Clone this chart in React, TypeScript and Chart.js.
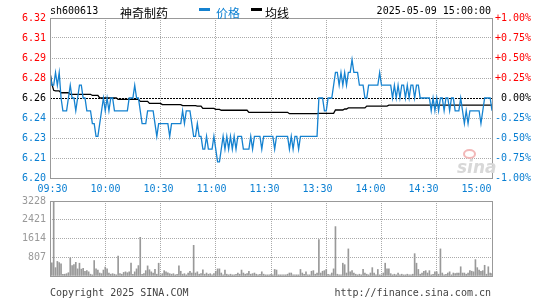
import React, { useEffect, useRef } from "react";
import { Chart, registerables } from "chart.js";

Chart.register(...registerables);

const PREV_CLOSE = 6.26;
const STOCK_CODE = "sh600613";
const STOCK_NAME = "神奇制药";
const DATE_TIME = "2025-05-09 15:00:00";

const X_LABELS = ["09:30", "10:00", "10:30", "11:00", "11:30", "13:30", "14:00", "14:30", "15:00"];
const GRID_MINUTES = [0, 30, 60, 90, 120, 150, 180, 210, 240];
const PCT_TICKS = [-1, -0.75, -0.5, -0.25, 0, 0.25, 0.5, 0.75, 1];
const VOL_TICKS = [0, 807, 1614, 2421, 3228];

const PRICE = [
  6.28, 6.27, 6.27, 6.28, 6.27, 6.28, 6.26, 6.25, 6.25, 6.25,
  6.26, 6.27, 6.26, 6.26, 6.25, 6.26, 6.27, 6.27, 6.26, 6.26,
  6.25, 6.25, 6.25, 6.24, 6.24, 6.23, 6.23, 6.24, 6.25, 6.26,
  6.25, 6.26, 6.25, 6.26, 6.26, 6.25, 6.25, 6.25, 6.25, 6.25,
  6.25, 6.25, 6.25, 6.26, 6.26, 6.26, 6.27, 6.26, 6.26, 6.25,
  6.24, 6.24, 6.24, 6.25, 6.25, 6.25, 6.25, 6.24, 6.23, 6.24,
  6.24, 6.24, 6.24, 6.24, 6.24, 6.23, 6.24, 6.24, 6.24, 6.24,
  6.24, 6.24, 6.25, 6.24, 6.25, 6.25, 6.25, 6.24, 6.23, 6.23,
  6.24, 6.23, 6.23, 6.22, 6.22, 6.23, 6.22, 6.22, 6.22, 6.23,
  6.22, 6.21, 6.21, 6.22, 6.23, 6.22, 6.23, 6.22, 6.23, 6.22,
  6.23, 6.22, 6.23, 6.23, 6.23, 6.22, 6.22, 6.22, 6.22, 6.23,
  6.22, 6.23, 6.23, 6.23, 6.23, 6.22, 6.23, 6.23, 6.23, 6.23,
  6.23, 6.23, 6.22, 6.23, 6.23, 6.23, 6.23, 6.23, 6.23, 6.23,
  6.22, 6.23, 6.22, 6.23, 6.23, 6.22, 6.23, 6.23, 6.23, 6.23,
  6.23, 6.23, 6.23, 6.23, 6.23, 6.23, 6.26, 6.26, 6.26, 6.25,
  6.25, 6.26, 6.26, 6.26, 6.27, 6.28, 6.28, 6.27, 6.28, 6.27,
  6.28, 6.27, 6.28, 6.28, 6.29, 6.28, 6.28, 6.28, 6.27, 6.27,
  6.27, 6.26, 6.26, 6.27, 6.27, 6.27, 6.27, 6.27, 6.27, 6.28,
  6.27, 6.27, 6.27, 6.27, 6.27, 6.27, 6.26, 6.27, 6.26, 6.27,
  6.26, 6.27, 6.27, 6.26, 6.27, 6.26, 6.27, 6.27, 6.26, 6.27,
  6.27, 6.26, 6.26, 6.26, 6.26, 6.26, 6.26, 6.25, 6.26, 6.25,
  6.26, 6.25, 6.26, 6.26, 6.25, 6.26, 6.26, 6.25, 6.26, 6.26,
  6.25, 6.25, 6.25, 6.26, 6.25, 6.24, 6.25, 6.24, 6.25, 6.25,
  6.25, 6.25, 6.25, 6.25, 6.24, 6.25, 6.26, 6.26, 6.26, 6.26,
  6.25,
];

const AVG = [
  6.28, 6.271, 6.266, 6.2655, 6.2655, 6.2655, 6.2641, 6.2641, 6.2641, 6.2641,
  6.2641, 6.2629, 6.2629, 6.2629, 6.2629, 6.2629, 6.2629, 6.2629, 6.2629, 6.2629,
  6.2629, 6.2629, 6.2629, 6.262, 6.262, 6.262, 6.262, 6.26, 6.26, 6.26,
  6.26, 6.26, 6.26, 6.26, 6.26, 6.26, 6.26, 6.259, 6.259, 6.259,
  6.259, 6.259, 6.259, 6.259, 6.259, 6.259, 6.259, 6.259, 6.259, 6.2574,
  6.2574, 6.2574, 6.2574, 6.2574, 6.2558, 6.2558, 6.2558, 6.2558, 6.2558, 6.2558,
  6.2558, 6.2548, 6.2548, 6.2548, 6.2548, 6.2548, 6.2548, 6.2548, 6.2548, 6.2548,
  6.2548, 6.2548, 6.254, 6.254, 6.254, 6.254, 6.254, 6.254, 6.254, 6.254,
  6.2537, 6.2537, 6.2537, 6.2519, 6.2519, 6.2519, 6.2519, 6.2519, 6.2519, 6.2519,
  6.2511, 6.2511, 6.2511, 6.2504, 6.2504, 6.2504, 6.2504, 6.2504, 6.2504, 6.2504,
  6.2504, 6.2504, 6.2504, 6.2504, 6.2504, 6.2504, 6.2504, 6.2504, 6.2488, 6.2488,
  6.2488, 6.2488, 6.2488, 6.2488, 6.2488, 6.2488, 6.2488, 6.2488, 6.2488, 6.2488,
  6.2488, 6.2488, 6.2488, 6.2488, 6.2488, 6.2488, 6.2488, 6.2488, 6.2488, 6.2488,
  6.2477, 6.2477, 6.2477, 6.2477, 6.2477, 6.2477, 6.2477, 6.2477, 6.2477, 6.2477,
  6.2477, 6.2477, 6.2477, 6.2477, 6.2477, 6.2477, 6.248, 6.248, 6.248, 6.248,
  6.248, 6.248, 6.248, 6.248, 6.248, 6.2506, 6.2506, 6.2506, 6.2506, 6.2506,
  6.2514, 6.2514, 6.2522, 6.2522, 6.2522, 6.2522, 6.2522, 6.2522, 6.2522, 6.2522,
  6.2522, 6.2522, 6.2537, 6.2537, 6.2537, 6.2537, 6.2537, 6.2537, 6.2537, 6.2537,
  6.2537, 6.2537, 6.2537, 6.2537, 6.2544, 6.2544, 6.2544, 6.2544, 6.2544, 6.2544,
  6.2544, 6.2544, 6.2544, 6.2544, 6.2544, 6.2544, 6.2544, 6.2544, 6.2544, 6.2544,
  6.2544, 6.2544, 6.2544, 6.2544, 6.2544, 6.2544, 6.2544, 6.2544, 6.2544, 6.2544,
  6.2544, 6.2544, 6.2544, 6.2544, 6.2544, 6.2544, 6.2544, 6.2544, 6.2544, 6.2544,
  6.2544, 6.2544, 6.2544, 6.2544, 6.2544, 6.2544, 6.2544, 6.2544, 6.2544, 6.2544,
  6.2544, 6.2544, 6.2544, 6.2544, 6.2544, 6.2544, 6.2544, 6.2544, 6.2544, 6.2544,
  6.2544,
];

const VOLUME = [
  160, 564, 3228, 359, 628, 577, 525, 77, 77, 100,
  141, 781, 448, 487, 589, 307, 551, 295, 333, 205,
  230, 180, 77, 50, 666, 307, 256, 128, 102, 256,
  384, 307, 128, 77, 100, 77, 50, 858, 100, 77,
  154, 180, 141, 180, 551, 77, 180, 307, 448, 1665,
  77, 100, 230, 435, 269, 180, 128, 282, 77, 551,
  50, 100, 230, 180, 141, 100, 77, 100, 50, 77,
  435, 205, 77, 100, 50, 128, 205, 128, 1319, 128,
  180, 77, 100, 269, 77, 128, 77, 100, 50, 100,
  205, 307, 307, 128, 50, 256, 77, 50, 77, 50,
  50, 77, 128, 77, 256, 128, 77, 100, 205, 77,
  100, 128, 77, 50, 77, 180, 77, 50, 50, 50,
  77, 50, 282, 256, 50, 50, 50, 50, 50, 77,
  128, 128, 50, 50, 50, 50, 282, 128, 77, 180,
  50, 50, 205, 230, 77, 128, 1563, 128, 205, 230,
  282, 77, 50, 128, 307, 2126, 77, 50, 50, 551,
  487, 128, 1166, 180, 230, 128, 77, 50, 77, 50,
  282, 128, 77, 50, 128, 359, 128, 50, 282, 50,
  50, 128, 551, 307, 307, 100, 50, 77, 50, 128,
  50, 77, 50, 50, 77, 50, 50, 77, 961, 551,
  282, 77, 128, 205, 230, 128, 230, 50, 77, 180,
  180, 77, 1166, 128, 50, 77, 128, 180, 50, 128,
  100, 128, 128, 397, 128, 128, 77, 128, 230, 205,
  180, 705, 359, 256, 205, 230, 461, 77, 397, 128,
  100,
];

const MONO = "'DejaVu Sans Mono', monospace";
const CJK = "'Noto Sans CJK SC', sans-serif";
const BLUE_LINE = "#1582d0";
const BLUE_TEXT = "#0a7fd2";
const RED = "#ff0000";
const GRID = "#aaaaaa";
const FRAME = "#999999";

const framePlugin = {
  id: "frame",
  afterDraw(chart: any) {
    const { left, top, right, bottom } = chart.chartArea;
    const ctx = chart.ctx;
    ctx.save();
    ctx.strokeStyle = FRAME;
    ctx.lineWidth = 1;
    ctx.setLineDash([]);
    ctx.strokeRect(left + 0.5, top + 0.5, right - left, bottom - top);
    ctx.restore();
  },
};

const zeroLinePlugin = {
  id: "zeroLine",
  beforeDatasetsDraw(chart: any) {
    const y = Math.round(chart.scales.y.getPixelForValue(PREV_CLOSE)) + 0.5;
    const { left, right } = chart.chartArea;
    const ctx = chart.ctx;
    ctx.save();
    ctx.strokeStyle = "#000";
    ctx.lineWidth = 1;
    ctx.setLineDash([2, 1]);
    ctx.beginPath();
    ctx.moveTo(left, y);
    ctx.lineTo(right, y);
    ctx.stroke();
    ctx.restore();
  },
};

const labelMin = -2.5 / 53;
const labelMax = labelMin + (8 * 442) / 424;

function pctText(p: number) {
  if (p > 0) return "+" + p.toFixed(2) + "%";
  if (p < 0) return p.toFixed(2) + "%";
  return " " + p.toFixed(2) + "%";
}

function tickColor(i: number) {
  if (i < 4) return BLUE_TEXT;
  if (i > 4) return RED;
  return "#000";
}

export default function App() {
  const priceRef = useRef<HTMLCanvasElement>(null);
  const volRef = useRef<HTMLCanvasElement>(null);

  useEffect(() => {
    const font = { family: MONO, size: 10 };
    const priceChart = new Chart(priceRef.current as HTMLCanvasElement, {
      type: "line",
      data: {
        datasets: [
          {
            label: "价格",
            data: PRICE.map((y, i) => ({ x: i, y })),
            borderColor: BLUE_LINE,
            borderWidth: 1.3,
            pointRadius: 0,
            tension: 0,
            xAxisID: "x",
            yAxisID: "y",
          },
          {
            label: "均线",
            data: AVG.map((y, i) => ({ x: i, y })),
            borderColor: "#000",
            borderWidth: 1.3,
            pointRadius: 0,
            tension: 0,
            xAxisID: "x",
            yAxisID: "y",
          },
        ],
      },
      options: {
        responsive: false,
        animation: false,
        events: [],
        layout: { padding: { top: 18, left: 0, right: 0, bottom: 0 } },
        plugins: { legend: { display: false }, tooltip: { enabled: false } },
        scales: {
          x: {
            type: "linear",
            position: "bottom",
            min: 0,
            max: 240,
            afterBuildTicks: (s: any) => {
              s.ticks = GRID_MINUTES.map((v) => ({ value: v }));
            },
            afterFit: (s: any) => {
              s.height = 0;
            },
            ticks: { display: false },
            grid: { color: GRID, drawTicks: false, lineWidth: 1 },
            border: { display: false, dash: [1, 1] },
          },
          xl: {
            type: "linear",
            position: "bottom",
            min: labelMin,
            max: labelMax,
            afterBuildTicks: (s: any) => {
              s.ticks = X_LABELS.map((_, i) => ({ value: i }));
            },
            afterFit: (s: any) => {
              s.height = 18;
            },
            ticks: {
              autoSkip: false,
              maxRotation: 0,
              color: BLUE_TEXT,
              font,
              padding: 5,
              callback: (_v: any, i: number) => X_LABELS[i],
            },
            grid: { display: false, drawTicks: false },
            border: { display: false },
          },
          y: {
            type: "linear",
            position: "left",
            min: PREV_CLOSE * 0.99,
            max: PREV_CLOSE * 1.01,
            afterBuildTicks: (s: any) => {
              s.ticks = PCT_TICKS.map((p) => ({ value: PREV_CLOSE * (1 + p / 100) }));
            },
            afterFit: (s: any) => {
              s.width = 50;
            },
            ticks: {
              font,
              padding: 4,
              color: (c: any) => tickColor(c.index),
              callback: (_v: any, i: number) => (PREV_CLOSE * (1 + PCT_TICKS[i] / 100)).toFixed(2),
            },
            grid: {
              drawTicks: false,
              color: (c: any) => (c.index === 4 ? "rgba(0,0,0,0)" : GRID),
            },
            border: { display: false, dash: [1, 1] },
          },
          y2: {
            type: "linear",
            position: "right",
            min: PREV_CLOSE * 0.99,
            max: PREV_CLOSE * 1.01,
            afterBuildTicks: (s: any) => {
              s.ticks = PCT_TICKS.map((p) => ({ value: PREV_CLOSE * (1 + p / 100) }));
            },
            afterFit: (s: any) => {
              s.width = 53;
            },
            ticks: {
              font,
              padding: 3,
              color: (c: any) => tickColor(c.index),
              callback: (_v: any, i: number) => pctText(PCT_TICKS[i]),
            },
            grid: { display: false, drawTicks: false },
            border: { display: false },
          },
        },
      },
      plugins: [zeroLinePlugin, framePlugin],
    } as any);

    const volChart = new Chart(volRef.current as HTMLCanvasElement, {
      type: "bar",
      data: {
        datasets: [
          {
            label: "成交量",
            data: VOLUME.map((y, i) => ({ x: i, y })),
            backgroundColor: "#999999",
            barThickness: 1,
            borderWidth: 0,
          },
        ],
      },
      options: {
        responsive: false,
        animation: false,
        events: [],
        layout: { padding: { top: 12, left: 0, right: 53, bottom: 1 } },
        plugins: { legend: { display: false }, tooltip: { enabled: false } },
        scales: {
          x: {
            type: "linear",
            min: 0,
            max: 240,
            offset: false,
            afterBuildTicks: (s: any) => {
              s.ticks = GRID_MINUTES.map((v) => ({ value: v }));
            },
            afterFit: (s: any) => {
              s.height = 0;
            },
            ticks: { display: false },
            grid: { color: GRID, drawTicks: false, offset: false },
            border: { display: false, dash: [1, 1] },
          },
          y: {
            type: "linear",
            min: 0,
            max: 3228,
            afterBuildTicks: (s: any) => {
              s.ticks = VOL_TICKS.map((v) => ({ value: v }));
            },
            afterFit: (s: any) => {
              s.width = 50;
            },
            ticks: {
              font,
              padding: 4,
              color: "#999999",
              callback: (_v: any, i: number) => (i === 0 ? "" : String(VOL_TICKS[i])),
            },
            grid: {
              drawTicks: false,
              color: (c: any) => (c.index === 0 ? "rgba(0,0,0,0)" : GRID),
            },
            border: { display: false, dash: [1, 1] },
          },
        },
      },
      plugins: [framePlugin],
    } as any);

    return () => {
      priceChart.destroy();
      volChart.destroy();
    };
  }, []);

  const abs = (s: React.CSSProperties): React.CSSProperties => ({
    position: "absolute",
    whiteSpace: "nowrap",
    lineHeight: "12px",
    ...s,
  });

  return (
    <div
      style={{
        position: "absolute",
        left: 0,
        top: 0,
        width: 545,
        height: 300,
        background: "#fff",
        overflow: "hidden",
      }}
    >
      <canvas ref={priceRef} width={545} height={196} style={{ position: "absolute", left: 0, top: 0 }} />
      <canvas ref={volRef} width={545} height={97} style={{ position: "absolute", left: 0, top: 189 }} />

      <div style={abs({ left: 50, top: 5, font: `10px ${MONO}`, color: "#000" })}>{STOCK_CODE}</div>
      <div style={abs({ left: 120, top: 4, font: `12px ${CJK}`, color: "#000" })}>{STOCK_NAME}</div>
      <div style={abs({ left: 199, top: 8, width: 11, height: 3, background: BLUE_LINE })} />
      <div style={abs({ left: 216, top: 4, font: `12px ${CJK}`, color: BLUE_TEXT })}>价格</div>
      <div style={abs({ left: 251, top: 8, width: 11, height: 3, background: "#000" })} />
      <div style={abs({ left: 265, top: 4, font: `12px ${CJK}`, color: "#000" })}>均线</div>
      <div style={abs({ right: 545 - 491, top: 5, font: `10px ${MONO}`, color: "#000" })}>{DATE_TIME}</div>

      <div style={abs({ left: 463, top: 149, width: 13, height: 10, borderRadius: "50%", border: "2px solid #f2b8b8", boxSizing: "border-box" })} />
      <div style={abs({ left: 457, top: 157, font: `italic bold 17px 'DejaVu Sans', sans-serif`, color: "#d8d8d8", lineHeight: "17px" })}>sina</div>

      <div style={abs({ left: 50, top: 287, font: `10px ${MONO}`, color: "#444" })}>Copyright 2025 SINA.COM</div>
      <div style={abs({ right: 545 - 491, top: 287, font: `10px ${MONO}`, color: "#444" })}>http://finance.sina.com.cn</div>
    </div>
  );
}
